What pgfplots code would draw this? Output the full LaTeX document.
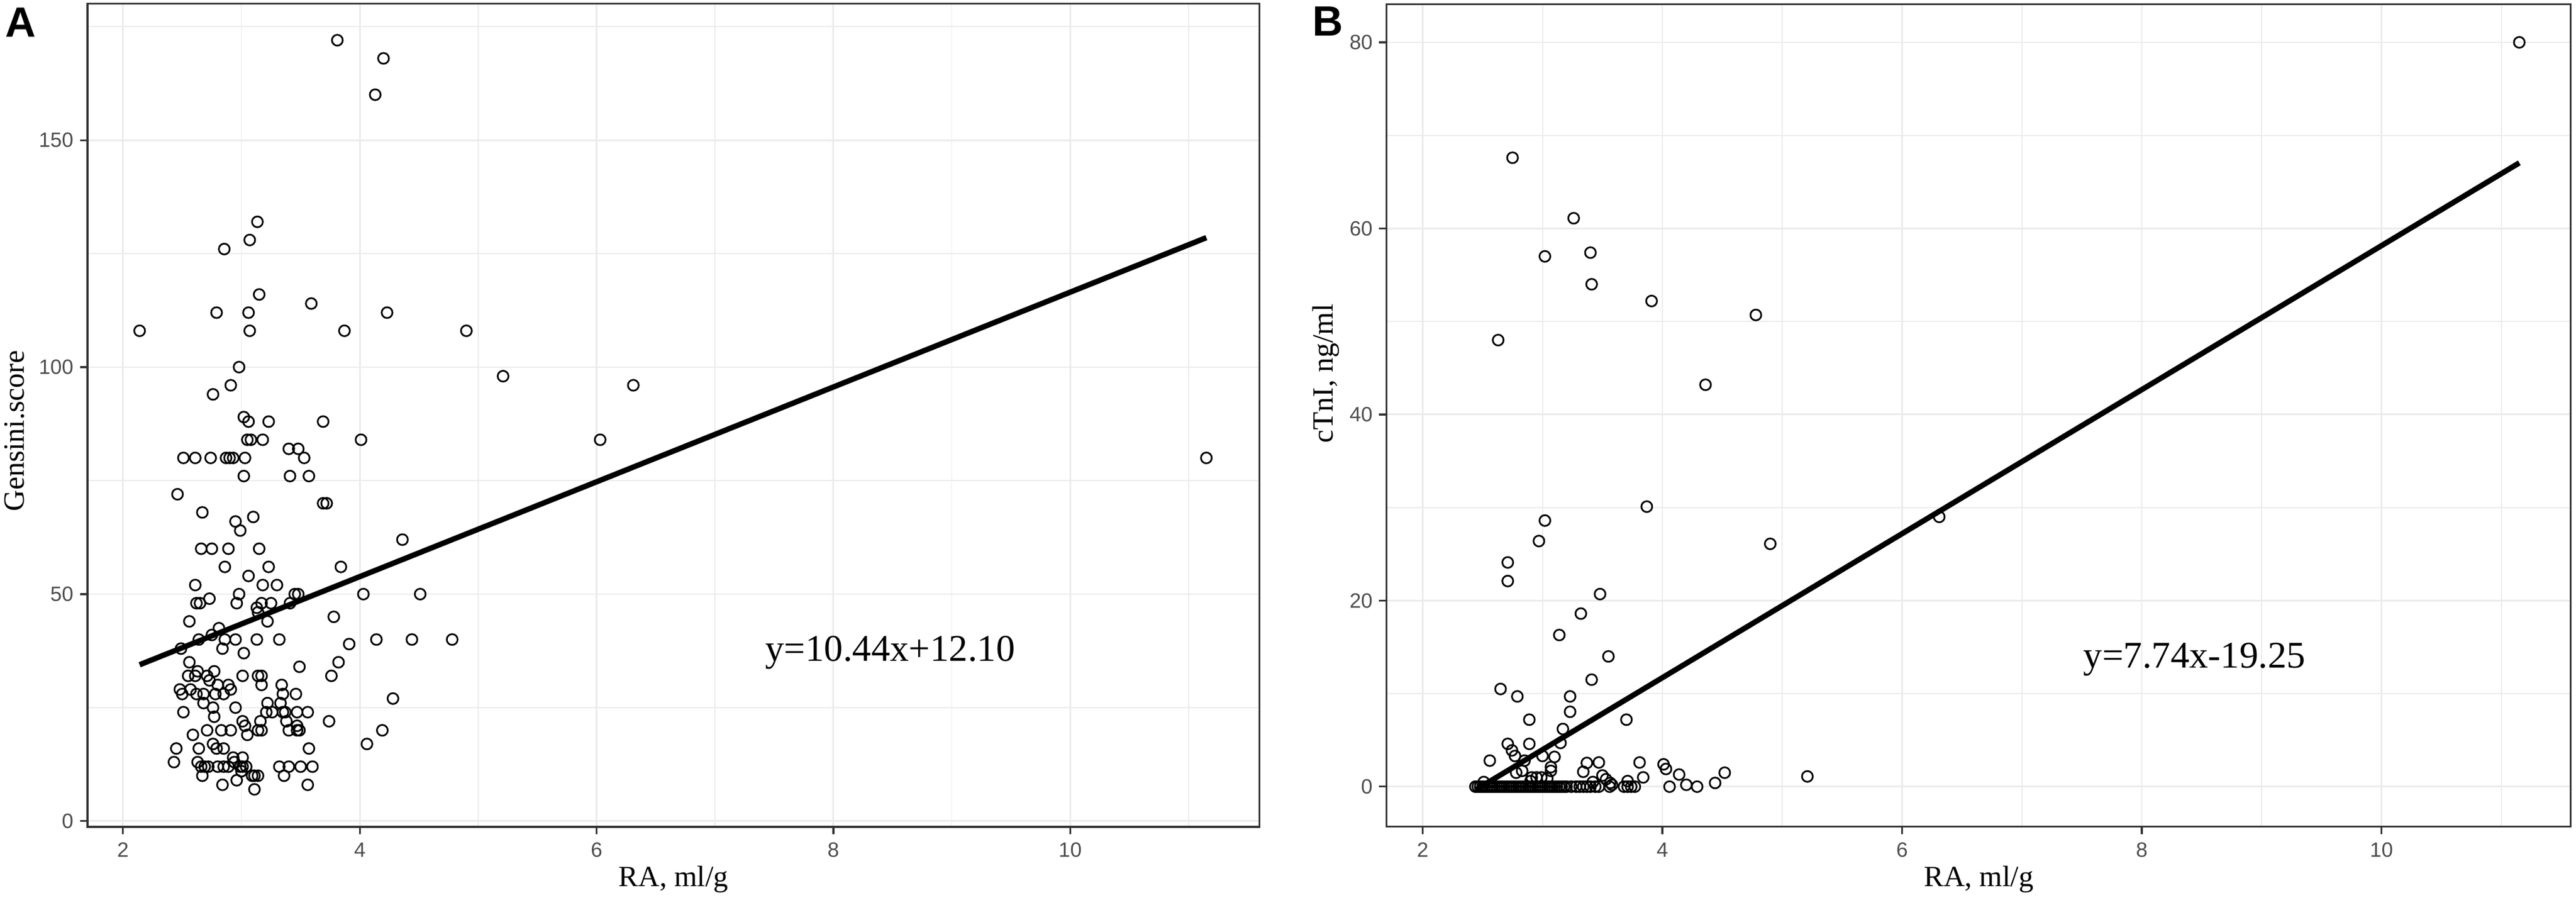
\documentclass[border=0pt]{standalone}
\usepackage{fontspec}
\setmainfont{Liberation Serif}
\newfontfamily\arial{Liberation Sans}
\usepackage{pgfplots}
\pgfplotsset{compat=1.18}
\usepackage{pgfplotstable}
\definecolor{tickgray}{HTML}{4D4D4D}
\definecolor{framegray}{HTML}{333333}
\definecolor{gridgray}{HTML}{EBEBEB}

\pgfplotstableread{
x y
2.14 108
2.43 13
2.45 16
2.46 72
2.48 29
2.49 38
2.50 28
2.51 80
2.51 24
2.55 32
2.56 44
2.56 35
2.57 29
2.59 19
2.61 80
2.61 52
2.61 32
2.62 48
2.62 28
2.63 33
2.63 13
2.64 40
2.64 16
2.65 48
2.66 60
2.66 12
2.67 68
2.67 10
2.68 28
2.68 26
2.69 12
2.71 32
2.71 20
2.72 12
2.73 49
2.73 31
2.74 80
2.75 60
2.75 41
2.76 94
2.76 25
2.76 17
2.77 33
2.77 23
2.78 28
2.79 112
2.79 16
2.80 30
2.80 12
2.81 42.5
2.83 20
2.84 38
2.84 8
2.855 126
2.85 28
2.85 16
2.85 12
2.86 56
2.86 40
2.87 80
2.89 60
2.89 30
2.89 12
2.90 80
2.91 96
2.91 29
2.91 20
2.93 80
2.93 14
2.94 13
2.95 66
2.95 40
2.95 25
2.96 48
2.96 9
2.98 100
2.98 50
2.99 64
2.99 12
3.00 11
3.01 32
3.01 22
3.01 14
3.01 12
3.02 89
3.02 76
3.02 37
3.03 80
3.03 21
3.04 12
3.05 84
3.05 19
3.06 112
3.06 88
3.06 54
3.07 128
3.07 108
3.08 84
3.09 10
3.10 67
3.11 10
3.11 7
3.13 47
3.13 40
3.135 132
3.14 46
3.14 32
3.14 20
3.14 10
3.15 116
3.15 60
3.16 22
3.17 48
3.17 32
3.17 30
3.17 20
3.18 84
3.18 52
3.21 24
3.22 44
3.22 26
3.23 88
3.23 56
3.25 48
3.26 24
3.30 52
3.32 40
3.32 12
3.33 26
3.34 30
3.35 28
3.35 24
3.36 10
3.37 24
3.38 22
3.40 82
3.40 20
3.40 12
3.41 76
3.41 48
3.45 50
3.46 28
3.47 24
3.47 21
3.47 20
3.48 82
3.48 50
3.49 34
3.49 20
3.50 12
3.53 80
3.56 24
3.56 8
3.57 76
3.57 16
3.59 114
3.60 12
3.69 88
3.69 70
3.72 70
3.74 22
3.76 32
3.78 45
3.81 172
3.82 35
3.84 56
3.87 108
3.91 39
4.01 84
4.03 50
4.06 17
4.13 160
4.14 40
4.19 20
4.20 168
4.23 112
4.28 27
4.36 62
4.44 40
4.51 50
4.78 40
4.90 108
5.21 98
6.03 84
6.31 96
11.15 80
}\dataA

\pgfplotstableread{
x y
2.75 67.6
3.26 61.1
3.02 57.0
3.40 57.4
3.41 54.0
3.91 52.2
4.78 50.7
2.63 48.0
4.36 43.2
11.15 80
6.31 29.0
3.87 30.1
3.02 28.6
2.97 26.4
4.90 26.1
2.71 24.1
2.71 22.1
3.48 20.7
3.32 18.6
3.14 16.3
3.55 14.0
3.41 11.5
2.65 10.5
2.79 9.7
3.23 9.7
3.23 8.05
2.89 7.2
3.70 7.2
3.17 6.2
2.71 4.6
2.89 4.6
3.15 4.7
2.745 3.9
2.77 3.3
3.00 3.3
3.10 3.2
2.56 2.8
2.85 2.8
3.37 2.55
3.47 2.6
3.81 2.6
4.01 2.4
4.03 1.9
3.07 2.1
3.07 1.7
2.83 1.7
2.78 1.5
3.34 1.6
4.14 1.3
4.52 1.5
5.21 1.1
3.84 1.0
3.50 1.2
3.53 0.8
2.91 1.0
2.99 1.0
3.04 0.9
3.565 0.4
4.20 0.2
4.44 0.4
4.06 0
4.29 0
2.51 0.5
2.90 0.6
3.42 0.5
3.71 0.6
2.95 1.0
3.58 0.2
2.44 0
2.46 0
2.48 0
2.50 0
2.52 0
2.54 0
2.56 0
2.58 0
2.60 0
2.62 0
2.64 0
2.66 0
2.68 0
2.70 0
2.72 0
2.74 0
2.76 0
2.78 0
2.80 0
2.82 0
2.84 0
2.86 0
2.88 0
2.90 0
2.92 0
2.94 0
2.96 0
2.98 0
3.00 0
3.02 0
3.04 0
3.06 0
3.08 0
3.10 0
3.12 0
3.14 0
3.16 0
3.18 0
3.20 0
3.24 0
3.28 0
3.31 0
3.34 0
3.37 0
3.40 0
3.44 0
3.47 0
3.56 0
3.68 0
3.71 0
3.74 0
3.77 0
}\dataB

\pgfplotsset{
  ggpanel/.style={
    scale only axis,
    anchor=south west,
    xmin=1.70,
    axis line style={framegray, line width=0.75pt},
    tick align=outside,
    xtick pos=left,
    ytick pos=left,
    major tick length=3.2pt,
    minor tick length=0pt,
    major tick style={framegray, line width=0.75pt},
    xtick={2,4,6,8,10},
    minor xtick={3,5,7,9,11},
    grid=both,
    major grid style={gridgray, line width=0.7pt},
    minor grid style={gridgray, line width=0.4pt},
    /pgf/number format/assume math mode=true,
    ticklabel style={font=\tickfont, text=tickgray},
    yticklabel style={inner sep=0pt, xshift=-2.6pt},
    xticklabel style={inner sep=0pt, yshift=-3.4pt},
    label style={font=\labfont, text=black},
  },
}
\newcommand\tickfont{\arial\fontsize{8.8}{10}\selectfont}
\newcommand\labfont{\fontsize{12.5}{14}\selectfont}
\newcommand\eqfont{\fontsize{16}{16}\selectfont}
\newcommand\panfont{\arial\bfseries\fontsize{18}{18}\selectfont}

\begin{document}
\begin{tikzpicture}
\useasboundingbox (0,0) rectangle (1094.9pt,381.6pt);

\begin{axis}[ggpanel,
  at={(37.2pt,30.24pt)}, width=498.2pt, height=349.7pt,
  xmax=11.60, ymin=-1.25, ymax=180,
  ytick={0,50,100,150}, minor ytick={25,75,125,175},
  xlabel={RA, ml/g}, ylabel={Gensini.score},
  xlabel style={at={(axis description cs:0.5,-0.0727)}, anchor=base},
  ylabel style={at={(axis description cs:-0.054,0.481)}, anchor=base},
]
\addplot[only marks, mark=o, mark size=2.3pt, mark options={black, line width=0.72pt}] table[x=x,y=y] {\dataA};
\addplot[black, line width=2.3pt, no marks] coordinates {(2.14,34.44) (11.15,128.51)};
\node[anchor=base, font=\eqfont, inner sep=0pt] at (axis cs:8.48,35.3) {y=10.44x+12.10};
\end{axis}

\begin{axis}[ggpanel,
  at={(589.4pt,30.3pt)}, width=503.3pt, height=349.5pt,
  xmax=11.58, ymin=-4.3, ymax=84.1,
  ytick={0,20,40,60,80}, minor ytick={10,30,50,70},
  xlabel={RA, ml/g}, ylabel={cTnI, ng/ml},
  xlabel style={at={(axis description cs:0.5,-0.0727)}, anchor=base},
  ylabel style={at={(axis description cs:-0.0453,0.551)}, anchor=base},
]
\addplot[only marks, mark=o, mark size=2.3pt, mark options={black, line width=0.72pt}] table[x=x,y=y] {\dataB};
\addplot[black, line width=2.3pt, no marks] coordinates {(2.44,-0.36) (11.15,67.05)};
\node[anchor=base, font=\eqfont, inner sep=0pt] at (axis cs:8.44,12.8) {y=7.74x-19.25};
\end{axis}

\node[anchor=north west, inner sep=0pt, font=\panfont] at (2.2pt,378.5pt) {A};
\node[anchor=north west, inner sep=0pt, font=\panfont] at (557.6pt,379.0pt) {B};
\end{tikzpicture}
\end{document}
